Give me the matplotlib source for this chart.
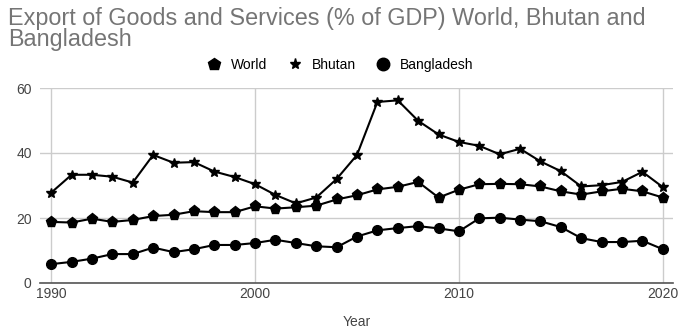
import matplotlib.pyplot as plt
from matplotlib.lines import Line2D

# ── Data ─────────────────────────────────────────────────────────────────────
years = list(range(1990, 2021))

world = [18.8, 18.6, 19.8, 18.8, 19.4, 20.6, 21.0, 22.1, 21.8, 21.8,
         23.6, 22.9, 23.3, 23.8, 25.7, 27.0, 28.8, 29.6, 31.1, 26.3,
         28.7, 30.4, 30.5, 30.4, 29.7, 28.2, 27.2, 28.2, 29.0, 28.2,
         26.3]

bhutan = [27.8, 33.3, 33.3, 32.7, 30.9, 39.4, 37.0, 37.2, 34.3, 32.6,
          30.4, 27.1, 24.5, 26.3, 32.0, 39.4, 55.7, 56.2, 49.9, 45.7,
          43.4, 42.2, 39.6, 41.3, 37.4, 34.4, 29.7, 30.1, 31.1, 34.2,
          29.5]

bangladesh = [5.8, 6.5, 7.5, 8.9, 8.9, 10.9, 9.5, 10.4, 11.7, 11.7,
              12.3, 13.3, 12.3, 11.3, 11.0, 14.3, 16.2, 16.9, 17.5, 16.8,
              15.9, 19.9, 20.1, 19.5, 19.0, 17.2, 13.8, 12.6, 12.6, 13.0,
              10.4]

x_ticks = [1990, 2000, 2010, 2020]
y_ticks = [0, 20, 40, 60]

plt.rcParams["font.family"] = ["Liberation Sans", "DejaVu Sans"]

# ── Canvas ────────────────────────────────────────────────────────────────────
fig = plt.figure(figsize=(6.78, 3.31), dpi=100)
fig.patch.set_facecolor("white")
ax = fig.add_axes([40 / 678, 48 / 331, 633 / 678, 195 / 331])

line_kw = dict(color="black", linewidth=1.5)
ax.plot(years, world, marker="p", markersize=8, **line_kw, zorder=3)
ax.plot(years, bhutan, marker="*", markersize=7, **line_kw, zorder=3)
ax.plot(years, bangladesh, marker="o", markersize=7, **line_kw, zorder=3)

ax.set_xlim(1989.45, 2020.5)
ax.set_ylim(0, 60)
ax.set_xticks(x_ticks)
ax.set_yticks(y_ticks)
ax.grid(True, color="#cccccc", linewidth=1)
ax.set_axisbelow(True)

for side in ["top", "right", "left"]:
    ax.spines[side].set_visible(False)
ax.spines["bottom"].set_color("#555555")
ax.spines["bottom"].set_linewidth(1.2)
ax.tick_params(axis="both", length=0, labelsize=10, colors="#444444")
ax.tick_params(axis="x", pad=3)
ax.tick_params(axis="y", pad=6)

ax.set_xlabel("Year", fontsize=10, color="#444444", labelpad=10)

# ── Title ─────────────────────────────────────────────────────────────────────
fig.text(0.012, 0.978,
         "Export of Goods and Services (% of GDP) World, Bhutan and\nBangladesh",
         ha="left", va="top", fontsize=16.8, color="#757575", linespacing=0.88)

# ── Legend ────────────────────────────────────────────────────────────────────
handles = [
    Line2D([], [], color="black", marker="p", linestyle="none", markersize=9),
    Line2D([], [], color="black", marker="*", linestyle="none", markersize=8),
    Line2D([], [], color="black", marker="o", linestyle="none", markersize=9),
]
fig.legend(handles, ["World", "Bhutan", "Bangladesh"],
           loc="center", bbox_to_anchor=(0.502, 0.805), ncol=3,
           frameon=False, fontsize=10, handletextpad=0.7,
           columnspacing=1.5, handlelength=1.0)

fig.savefig("out.png", dpi=100, facecolor="white")
